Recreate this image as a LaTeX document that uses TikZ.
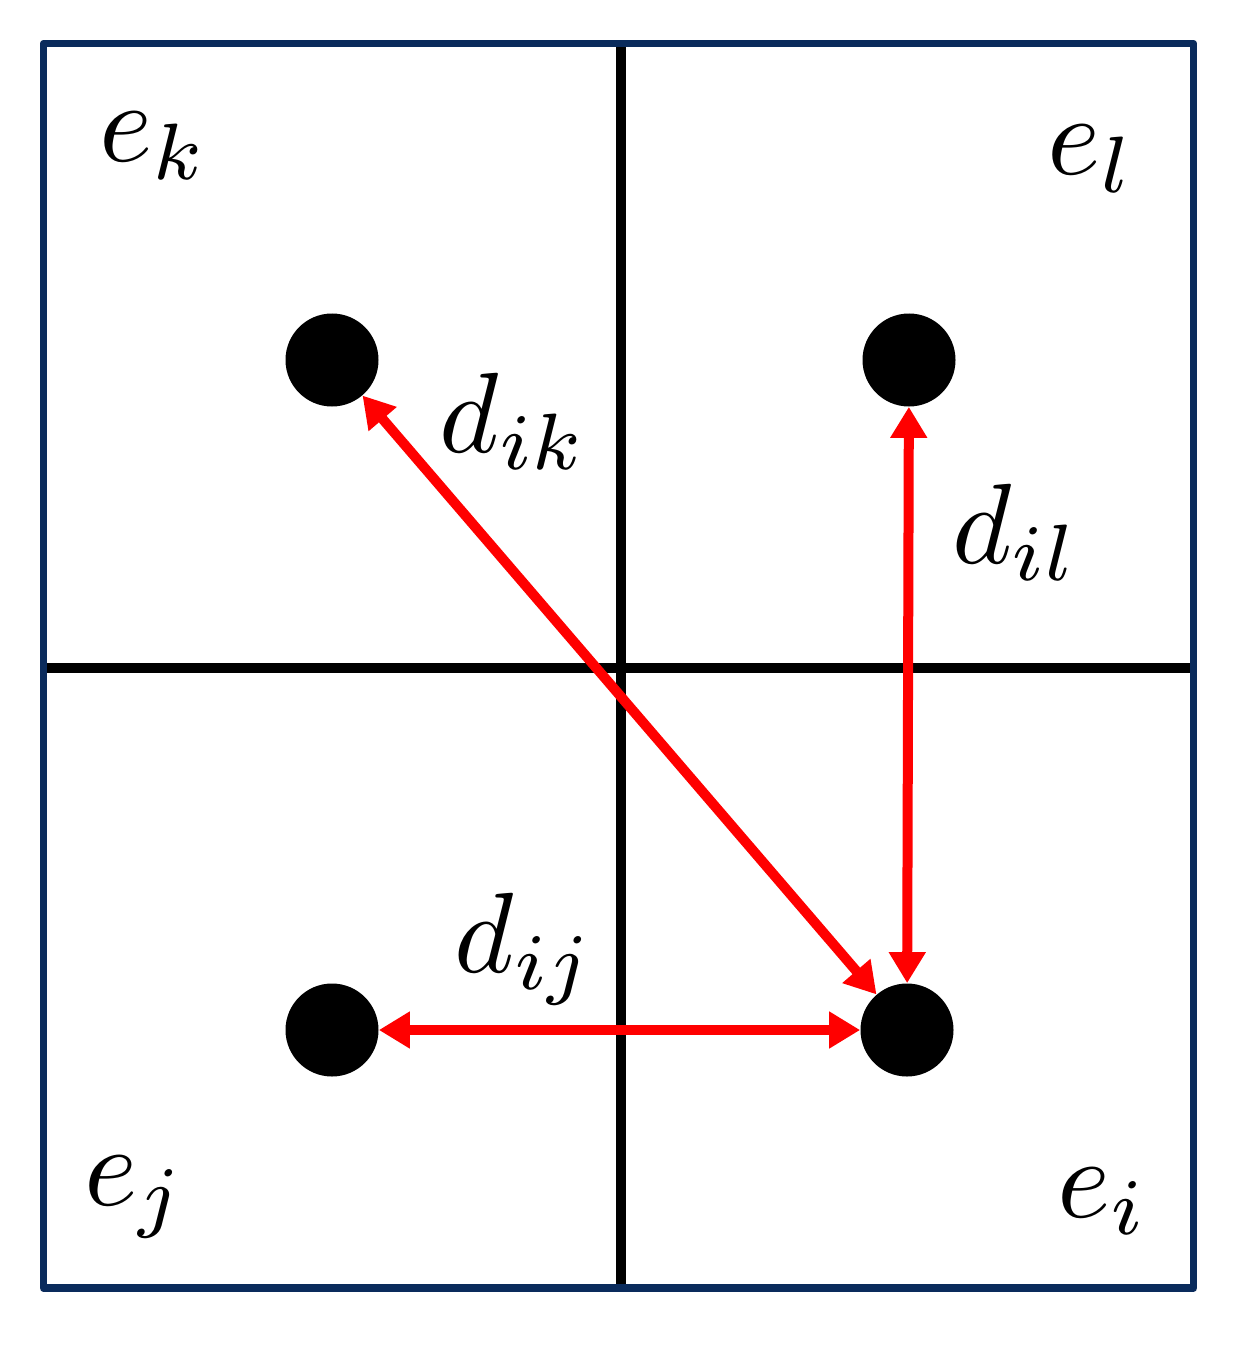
\documentclass[tikz,border=0pt]{standalone}
\usetikzlibrary{arrows.meta}
\definecolor{navy}{RGB}{10,43,92}
\tikzset{
  dot/.style={circle, fill=black, inner sep=0pt, minimum size=1.86cm},
  lab/.style={anchor=base west, inner sep=0pt, scale=6.5},
  dist/.style={red, line width=0.2cm, {Triangle[length=0.62cm,width=0.7cm]}-{Triangle[length=0.62cm,width=0.7cm]}}
}
\begin{document}
\begin{tikzpicture}
\useasboundingbox (0,0) rectangle (24.98,-26.94);
\draw[black, line width=0.2cm] (12.42,-0.87) -- (12.42,-25.76);
\draw[black, line width=0.2cm] (0.87,-13.36) -- (23.87,-13.36);
\draw[navy, line width=0.15cm, line join=round] (0.87,-0.87) rectangle (23.87,-25.76);

\node[dot] (k) at (6.64,-7.2) {};
\node[dot] (l) at (18.18,-7.2) {};
\node[dot] (j) at (6.64,-20.6) {};
\node[dot] (i) at (18.14,-20.6) {};

\draw[dist] (k) -- (i);
\draw[dist] (l) -- (i);
\draw[dist] (j) -- (i);

\node[lab] (ek) at (1.95,-3.24) {$e_k$};
\node[lab] (el) at (20.9,-3.5) {$e_l$};
\node[lab] (ej) at (1.65,-24.1) {$e_j$};
\node[lab] (ei) at (21.1,-24.34) {$e_i$};
\node[lab] (dik) at (8.75,-9.04) {$d_{ik}$};
\node[lab] (dil) at (19.0,-11.26) {$d_{il}$};
\node[lab] (dij) at (9.05,-19.44) {$d_{ij}$};
\end{tikzpicture}
\end{document}
